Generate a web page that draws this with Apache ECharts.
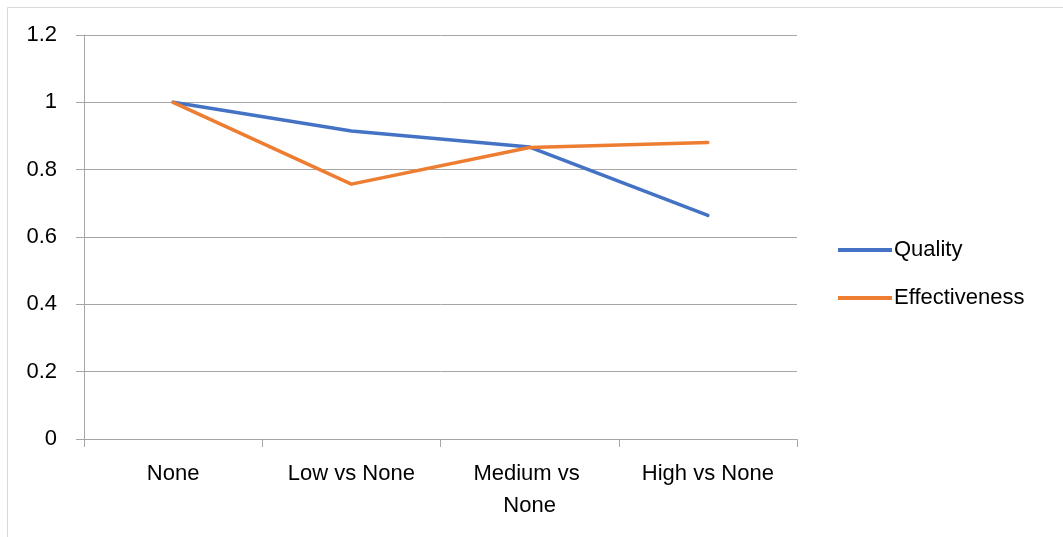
<!DOCTYPE html>
<html>
<head>
<meta charset="utf-8">
<script src="https://cdn.jsdelivr.net/npm/echarts@6/dist/echarts.min.js"></script>
<style>
html,body{margin:0;padding:0;background:#fff;}
#chart{width:1063px;height:537px;}
</style>
</head>
<body>
<div id="chart"></div>
<script>
const categories = ["None", "Low vs None", "Medium vs None", "High vs None"];
const quality = [1, 0.915, 0.867, 0.664];
const effectiveness = [1, 0.757, 0.866, 0.881];
const yTicks = [0, 0.2, 0.4, 0.6, 0.8, 1, 1.2];

const FONT = "Liberation Sans";
const chart = echarts.init(document.getElementById('chart'), null, {renderer: 'canvas'});
chart.setOption({
  backgroundColor: '#ffffff',
  animation: false,
  textStyle: {fontFamily: FONT},
  graphic: [{
    type: 'rect',
    shape: {x: 7.5, y: 7.5, width: 1200, height: 700},
    style: {fill: 'none', stroke: '#d9d9d9', lineWidth: 1},
    silent: true
  }],
  grid: {left: 84, right: 266, top: 35, bottom: 98, containLabel: false},
  legend: {
    orient: 'vertical',
    left: 833,
    top: 234,
    itemWidth: 54,
    itemHeight: 4,
    itemGap: 26,
    icon: 'rect',
    textStyle: {fontFamily: FONT, fontSize: 22, color: '#000', padding: [0, 0, 0, -3]},
    data: ['Quality', 'Effectiveness']
  },
  xAxis: {
    type: 'category',
    data: categories,
    boundaryGap: true,
    axisLine: {lineStyle: {color: '#a6a6a6', width: 1}},
    axisTick: {show: true, length: 8, lineStyle: {color: '#a6a6a6'}, alignWithLabel: false},
    axisLabel: {
      interval: 0,
      color: '#000',
      fontFamily: FONT,
      fontSize: 22,
      margin: 19,
      width: 150,
      overflow: 'break',
      lineHeight: 32
    }
  },
  yAxis: {
    type: 'value',
    min: yTicks[0],
    max: yTicks[yTicks.length - 1],
    interval: 0.2,
    axisLine: {show: true, lineStyle: {color: '#a6a6a6', width: 1}},
    axisTick: {show: true, length: 8, lineStyle: {color: '#a6a6a6'}},
    splitLine: {show: true, lineStyle: {color: '#a6a6a6', width: 1}},
    axisLabel: {
      color: '#000',
      fontFamily: FONT,
      fontSize: 22,
      margin: 27,
      formatter: function (v) { return String(Math.round(v * 10) / 10); }
    }
  },
  series: [
    {
      name: 'Quality',
      type: 'line',
      data: quality,
      symbol: 'none',
      itemStyle: {color: '#4472C4'},
      lineStyle: {color: '#4472C4', width: 3.5, cap: 'round', join: 'round'}
    },
    {
      name: 'Effectiveness',
      type: 'line',
      data: effectiveness,
      symbol: 'none',
      itemStyle: {color: '#ED7D31'},
      lineStyle: {color: '#ED7D31', width: 3.5, cap: 'round', join: 'round'}
    }
  ]
});
</script>
</body>
</html>
